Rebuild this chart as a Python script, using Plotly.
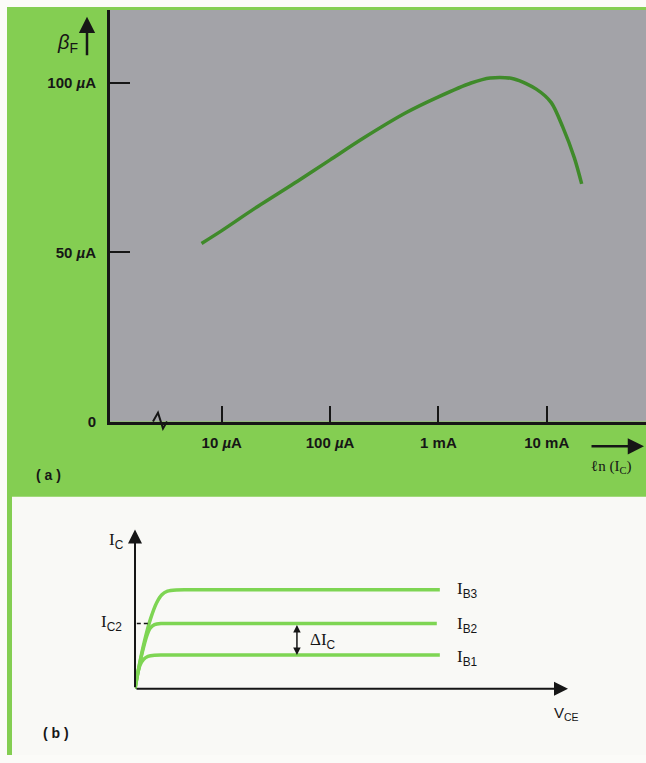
import plotly.graph_objects as go

W, H = 646, 763

# ---- panel (a): beta_F versus collector current (log scale) ----
ic_amps = [6.5e-6, 1e-5, 2e-5, 5e-5, 1e-4, 2e-4, 5e-4, 1e-3, 2e-3, 3e-3,
           5e-3, 8e-3, 1.1e-2, 1.4e-2, 1.8e-2, 2.1e-2]
beta_f = [52.6, 56.4, 62.9, 71.0, 77.3, 83.6, 91.2, 95.9, 100.0, 101.5,
          101.2, 98.2, 94.2, 87.1, 77.8, 70.2]
x_tickvals = [1e-5, 1e-4, 1e-3, 1e-2]
x_ticktext = ["10 <i>µ</i>A", "100 <i>µ</i>A", "1 mA", "10 mA"]
y_tickvals = [0, 50, 100]
y_ticktext = ["0", "50 <i>µ</i>A", "100 <i>µ</i>A"]

# ---- panel (b): output characteristics, arbitrary units ----
ib1_v = [0, 0.05, 0.12, 0.2, 0.3, 0.45, 0.7, 7.04]
ib1_i = [0, 0.8, 1.5, 1.85, 2.03, 2.1, 2.11, 2.11]
ib2_v = [0, 0.08, 0.17, 0.27, 0.35, 0.45, 0.6, 0.85, 6.97]
ib2_i = [0, 1.2, 2.3, 3.3, 3.8, 4.02, 4.09, 4.1, 4.1]
ib3_v = [0, 0.1, 0.22, 0.36, 0.5, 0.62, 0.75, 0.95, 1.3, 7.04]
ib3_i = [0, 1.5, 3.0, 4.4, 5.4, 5.9, 6.12, 6.2, 6.21, 6.21]
ic2_dash_v = [-0.12, 0.35]
ic2_level = 4.1
curve_subs = ["B3", "B2", "B1"]
curve_label_y = [6.18, 4.0, 1.95]

GREEN = "#84ce52"
GRAY = "#a3a3a8"
LIGHT = "#7ed553"
DARK = "#3f8a2a"
INK = "#161616"


def px(x):
    return x / W


def py(y):
    return 1 - y / H


fig = go.Figure()

fig.add_trace(go.Scatter(x=ic_amps, y=beta_f, mode="lines", line=dict(color=DARK, width=3.5, shape="spline", smoothing=0.8),
                         xaxis="x", yaxis="y", showlegend=False, hoverinfo="skip"))

for v, i in [(ib1_v, ib1_i), (ib2_v, ib2_i), (ib3_v, ib3_i)]:
    fig.add_trace(go.Scatter(x=v, y=i, mode="lines", line=dict(color=LIGHT, width=3.5, shape="spline", smoothing=0.8),
                             xaxis="x2", yaxis="y2", showlegend=False, hoverinfo="skip"))

fig.add_trace(go.Scatter(x=ic2_dash_v, y=[ic2_level] * 2, mode="lines",
                         line=dict(color=INK, width=1.5, dash="4px,3px"),
                         xaxis="x2", yaxis="y2", showlegend=False, hoverinfo="skip"))

sans = "Liberation Sans, Arial, sans-serif"
serif = "Liberation Serif, Times New Roman, serif"

fig.update_layout(
    width=W, height=H, margin=dict(l=0, r=0, t=0, b=0),
    paper_bgcolor="#fbfbf8", plot_bgcolor="rgba(0,0,0,0)",
    font=dict(family=sans, color=INK),
    xaxis=dict(type="log", domain=[px(110), 1], range=[-6.032, -1.084], tickvals=x_tickvals, ticktext=x_ticktext,
               ticks="inside", ticklen=16, tickwidth=2, tickcolor=INK, showgrid=False, zeroline=False,
               showline=True, linewidth=3, linecolor=INK, tickfont=dict(size=15, family=sans, weight="bold"),
               ticklabelstandoff=5, anchor="y"),
    yaxis=dict(domain=[py(426), py(10)], range=[0, 121.6], tickvals=y_tickvals, ticktext=y_ticktext,
               ticks="inside", ticklen=20, tickwidth=2, tickcolor=INK, showgrid=False, zeroline=False,
               showline=True, linewidth=3, linecolor=INK, tickfont=dict(size=15, family=sans, weight="bold"),
               ticklabelstandoff=8, anchor="x"),
    xaxis2=dict(domain=[px(135), px(568)], range=[0, 10], visible=False, anchor="y2"),
    yaxis2=dict(domain=[py(696), py(535)], range=[0, 10], visible=False, anchor="x2"),
)

shapes = [
    dict(type="rect", xref="paper", yref="paper", x0=px(7), x1=1, y0=0, y1=py(7),
         fillcolor=GREEN, line_width=0, layer="below"),
    dict(type="rect", xref="paper", yref="paper", x0=px(12), x1=1, y0=0, y1=py(502),
         fillcolor="#f9f9f6", line_width=0, layer="below"),
    dict(type="rect", xref="paper", yref="paper", x0=px(110), x1=1, y0=py(426), y1=py(10),
         fillcolor=GRAY, line_width=0, layer="below"),
    # axis break mark
    dict(type="path", xref="paper", yref="paper",
         path=f"M {px(153)},{py(426)} L {px(158)},{py(417)} L {px(163)},{py(433)} L {px(167)},{py(426)}",
         line=dict(color=INK, width=2)),
]
fig.update_layout(shapes=shapes)

sub = "<sub><span style='font-family:Liberation Sans'>%s</span></sub>"


def label(x, y, text, size, family, xanchor="center", ref="paper"):
    return dict(xref=ref, yref=ref.replace("x", "y"), x=x, y=y, text=text, showarrow=False,
                xanchor=xanchor, yanchor="middle", font=dict(size=size, family=family, color=INK))


ann = []
# panel (a) arrows and labels
ann.append(dict(xref="paper", yref="paper", x=px(87), y=py(17), ax=0, ay=40, text="", showarrow=True,
                arrowhead=2, arrowsize=1.3, arrowwidth=2.5, arrowcolor=INK))
ann.append(dict(xref="paper", yref="paper", x=px(644), y=py(451), ax=-54, ay=0, text="", showarrow=True,
                arrowhead=2, arrowsize=1.3, arrowwidth=2.5, arrowcolor=INK))
ann.append(label(px(80), py(44), "<i>β</i>" + sub % "F", 20, sans, xanchor="right"))
ann.append(label(px(611), py(472), "ℓn (I<sub>C</sub>)", 15, serif))
ann.append(label(px(48), py(480), "<b>( a )</b>", 14, sans))
ann.append(label(px(56), py(741), "<b>( b )</b>", 14, sans))

# panel (b) axes as arrows
ann.append(dict(xref="x2", yref="y2", axref="x2", ayref="y2", x=10, y=0, ax=0, ay=0, text="", showarrow=True,
                arrowhead=2, arrowsize=1.4, arrowwidth=2, arrowcolor=INK))
ann.append(dict(xref="x2", yref="y2", axref="x2", ayref="y2", x=0, y=10, ax=0, ay=0, text="", showarrow=True,
                arrowhead=2, arrowsize=1.4, arrowwidth=2, arrowcolor=INK))
# delta I_C double arrow
ann.append(dict(xref="x2", yref="y2", axref="x2", ayref="y2", x=3.74, y=2.11, ax=3.74, ay=ic2_level, text="",
                showarrow=True, arrowhead=2, startarrowhead=2, arrowside="end+start", arrowsize=1,
                arrowwidth=1.5, arrowcolor=INK))
ann.append(label(4.0, 2.98, "ΔI" + sub % "C", 17, serif, xanchor="left", ref="x2"))
ann.append(label(px(124), py(630), "I" + sub % "C2", 17, serif, xanchor="right"))
ann.append(label(px(126), py(547), "I" + sub % "C", 17, serif, xanchor="right"))
for s, yv in zip(curve_subs, curve_label_y):
    ann.append(label(7.38, yv, "I" + sub % s, 17, serif, xanchor="left", ref="x2"))
ann.append(label(px(566), py(721), "V<sub>CE</sub>", 15, sans))
fig.update_layout(annotations=ann)

fig.write_html("out.html", post_script="document.body.style.margin='0';", config={"displayModeBar": False})
